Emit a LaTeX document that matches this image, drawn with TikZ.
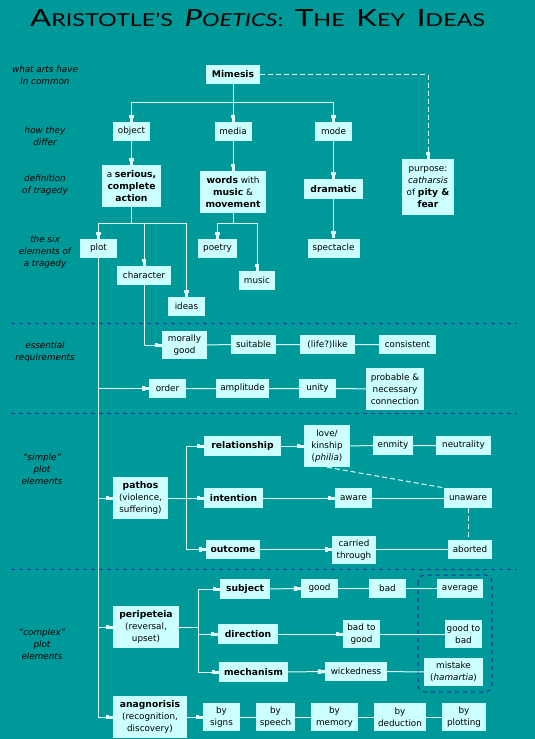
\documentclass[tikz,border=0pt]{standalone}
\usepackage{fontspec}
\usepackage{graphicx}
\setmainfont{DejaVu Sans}
\newfontfamily\titlefont{Lato}
\usetikzlibrary{arrows.meta}
\definecolor{bgteal}{RGB}{0,153,153}
\definecolor{boxc}{RGB}{204,255,255}
\definecolor{linec}{RGB}{225,255,255}
\definecolor{navyc}{RGB}{30,45,160}
\newcommand\bb[1]{{\fontsize{9.2}{12}\selectfont\bfseries #1}}
\newcommand\tbig[1]{{\fontsize{24}{24}\selectfont #1}}
\newcommand\tsml[1]{{\fontsize{18}{18}\selectfont #1}}
\newcommand\tsp{\hspace{9pt}}
\tikzset{
  bx/.style={fill=boxc, inner sep=0pt, align=center, text=black,
    font=\fontsize{8.8}{12}\selectfont},
  bw/.style={minimum width=#1pt},
  bh/.style={minimum height=#1pt},
  side/.style={align=center, inner sep=0pt, text=black,
    font=\fontsize{8.8}{12}\selectfont\itshape},
  ln/.style={draw=linec, line width=1pt},
  tipshape/.style={-{Rectangle[length=3pt,width=4.6pt]Rectangle[length=4pt,width=3pt]}},
  arr/.style={ln, tipshape},
  ldash/.style={ln, dash pattern=on 5pt off 3pt},
  sep/.style={draw=navyc, line width=1pt, dash pattern=on 4pt off 4pt},
}
\begin{document}
\begin{tikzpicture}[x=1pt,y=-1pt]
\useasboundingbox (0,0) rectangle (535,739);
\fill[bgteal] (0,0) rectangle (535,739);

% title
\node[anchor=base west, inner sep=0pt] (title) at (30,26.5)
  {\resizebox{455pt}{17pt}{\titlefont\tbig{A}\tsml{RISTOTLE’S}\tsp\textit{\tbig{P}\tsml{OETICS}}\tsml{:}\tsp\tbig{T}\tsml{HE}\tsp\tbig{K}\tsml{EY}\tsp\tbig{I}\tsml{DEAS}}};

% separators
\draw[sep] (11,323) -- (517,323);
\draw[sep] (11,413) -- (517,413);
\draw[sep] (11,569) -- (517,569);
\draw[sep, rounded corners=7pt] (418,575) rectangle (492,692);

% side labels
\node[side] (l1) at (45,75) {what arts have\\in common};
\node[side] (l2) at (45,136) {how they\\differ};
\node[side] (l3) at (45,185) {definition\\of tragedy};
\node[side] (l4) at (45,252) {the six\\elements of\\a tragedy};
\node[side] (l5) at (45,352) {essential\\requirements};
\node[side] (l6) at (42,469) {“simple”\\plot\\elements};
\node[side] (l7) at (42,644) {“complex”\\plot\\elements};

% boxes
\node[bx,bw=54,bh=19] (mimesis) at (233,74.5) {\bb{Mimesis}};
\node[bx,bw=37,bh=19] (object) at (131.5,131.5) {object};
\node[bx,bw=37,bh=19] (media) at (233,131.5) {media};
\node[bx,bw=37,bh=19] (mode) at (333.5,131.5) {mode};
\node[bx,bw=59,bh=42] (serious) at (131.5,186) {a \bb{serious,}\\\bb{complete}\\\bb{action}};
\node[bx,bw=66,bh=42] (words) at (233,192) {\bb{words} with\\\bb{music} \&\\\bb{movement}};
\node[bx,bw=59,bh=20] (dramatic) at (333.5,189) {\bb{dramatic}};
\node[bx,bw=52,bh=56] (purpose) at (428,187) {purpose:\\\textit{catharsis}\\of \bb{pity \&}\\\bb{fear}};
\node[bx,bw=37,bh=19] (plot) at (98.5,248.5) {plot};
\node[bx,bw=54,bh=19] (character) at (144,275.5) {character};
\node[bx,bw=37,bh=19] (ideas) at (186.5,306.5) {ideas};
\node[bx,bw=39,bh=19] (poetry) at (217.5,248.5) {poetry};
\node[bx,bw=36,bh=19] (music) at (257,280.5) {music};
\node[bx,bw=52,bh=19] (spectacle) at (333.5,248) {spectacle};

\node[bx,bw=45,bh=28] (morally) at (184.5,345) {morally\\good};
\node[bx,bw=45,bh=19] (suitable) at (253.5,344.5) {suitable};
\node[bx,bw=55,bh=19] (lifelike) at (327.5,344.5) {(life?)like};
\node[bx,bw=57,bh=19] (consistent) at (407.5,344.5) {consistent};
\node[bx,bw=37,bh=19] (order) at (167.5,388.5) {order};
\node[bx,bw=53,bh=19] (amplitude) at (242.5,388.5) {amplitude};
\node[bx,bw=37,bh=19] (unity) at (317.5,388.5) {unity};
\node[bx,bw=58,bh=42] (probable) at (395,389) {probable \&\\necessary\\connection};

\node[bx,bw=55,bh=42] (pathos) at (140.5,498) {\bb{pathos}\\(violence,\\suffering)};
\node[bx,bw=77,bh=20] (relationship) at (242.5,446) {\bb{relationship}};
\node[bx,bw=59,bh=20] (intention) at (233.5,498) {\bb{intention}};
\node[bx,bw=54,bh=19] (outcome) at (233,549.5) {\bb{outcome}};
\node[bx,bw=46,bh=42] (love) at (327,446) {love/\\kinship\\(\textit{philia})};
\node[bx,bw=40,bh=19] (enmity) at (393,445.5) {enmity};
\node[bx,bw=55,bh=19] (neutrality) at (463.5,445.5) {neutrality};
\node[bx,bw=37,bh=20] (aware) at (353.5,498) {aware};
\node[bx,bw=48,bh=20] (unaware) at (468,498) {unaware};
\node[bx,bw=44,bh=28] (carried) at (354,550) {carried\\through};
\node[bx,bw=44,bh=19] (aborted) at (470,549.5) {aborted};

\node[bx,bw=66,bh=42] (peripeteia) at (146,627) {\bb{peripeteia}\\(reversal,\\upset)};
\node[bx,bw=50,bh=20] (subject) at (245,589) {\bb{subject}};
\node[bx,bw=60,bh=20] (direction) at (248,634) {\bb{direction}};
\node[bx,bw=69,bh=20] (mechanism) at (253.5,672) {\bb{mechanism}};
\node[bx,bw=37,bh=19] (good) at (319.5,588.5) {good};
\node[bx,bw=37,bh=19] (bad) at (387.5,588.5) {bad};
\node[bx,bw=46,bh=19] (average) at (460,588.5) {average};
\node[bx,bw=37,bh=28] (badgood) at (361.5,634) {bad to\\good};
\node[bx,bw=37,bh=28] (goodbad) at (463.5,634) {good to\\bad};
\node[bx,bw=62,bh=19] (wicked) at (356,671.5) {wickedness};
\node[bx,bw=59,bh=28] (mistake) at (453.5,672) {mistake\\(\textit{hamartia})};

\node[bx,bw=74,bh=42] (anagnorisis) at (150,717) {\bb{anagnorisis}\\(recognition,\\discovery)};
\node[bx,bw=37,bh=28] (signs) at (221.5,717) {by\\signs};
\node[bx,bw=39,bh=28] (speech) at (275.5,717) {by\\speech};
\node[bx,bw=47,bh=28] (memory) at (334.5,717) {by\\memory};
\node[bx,bw=52,bh=28] (deduction) at (400,717) {by\\deduction};
\node[bx,bw=44,bh=28] (plotting) at (464,717) {by\\plotting};

% junction coordinates
\coordinate (mj) at (233,102);
\coordinate (sj) at (131.5,223);
\coordinate (wj) at (233,223);
\coordinate (pj) at (186,498);
\coordinate (rj) at (198,627);

% connectors top
\draw[ln] (mimesis) -- (mj);
\draw[arr] (mj) -| (object.north);
\draw[arr] (mj) -- (media.north);
\draw[arr] (mj) -| (mode.north);
\draw[ldash, tipshape] (mimesis.east) -| (purpose.north);
\draw[arr] (object) -- (serious);
\draw[arr] (media) -- (words);
\draw[arr] (mode) -- (dramatic);
\draw[ln] (serious) -- (sj);
\draw[arr] (sj) -| (plot.north);
\draw[arr] (sj) -| (character.north);
\draw[arr] (sj) -| (ideas.north);
\draw[ln] (words) -- (wj);
\draw[arr] (wj) -| (poetry.north);
\draw[arr] (wj) -| (music.north);
\draw[arr] (dramatic) -- (spectacle);

% requirements
\draw[arr] (character.south) |- (morally.west);
\draw[ln] (morally) -- (suitable) -- (lifelike) -- (consistent);
\draw[arr] (plot.south) |- (anagnorisis.west);
\draw[arr] (plot.south |- order.west) -- (order.west);
\draw[ln] (order) -- (amplitude) -- (unity) -- (probable);

% simple plot
\draw[arr] (plot.south |- pathos.west) -- (pathos.west);
\draw[ln] (pathos.east) -- (pj);
\draw[arr] (pj) |- (relationship.west);
\draw[arr] (pj) -- (intention.west);
\draw[arr] (pj) |- (outcome.west);
\draw[arr] (relationship) -- (love);
\draw[ln] (love) -- (enmity) -- (neutrality);
\draw[arr] (intention) -- (aware);
\draw[ln] (aware) -- (unaware);
\draw[arr] (outcome) -- (outcome.east -| carried.west);
\draw[ln] (carried.east |- aborted.west) -- (aborted.west);
\draw[ldash] (love.south) -- (unaware.north west);
\draw[ldash] (unaware.south) -- (unaware.south |- aborted.north);

% complex plot
\draw[arr] (plot.south |- peripeteia.west) -- (peripeteia.west);
\draw[ln] (peripeteia.east) -- (rj);
\draw[arr] (rj) |- (subject.west);
\draw[arr] (rj) |- (direction.west);
\draw[arr] (rj) |- (mechanism.west);
\draw[arr] (subject) -- (good);
\draw[ln] (good) -- (bad) -- (average);
\draw[arr] (direction) -- (badgood);
\draw[ln] (badgood) -- (goodbad);
\draw[arr] (mechanism) -- (wicked);
\draw[ln] (wicked) -- (mistake);
\draw[arr] (anagnorisis) -- (signs);
\draw[ln] (signs) -- (speech) -- (memory) -- (deduction) -- (plotting);
\end{tikzpicture}
\end{document}
